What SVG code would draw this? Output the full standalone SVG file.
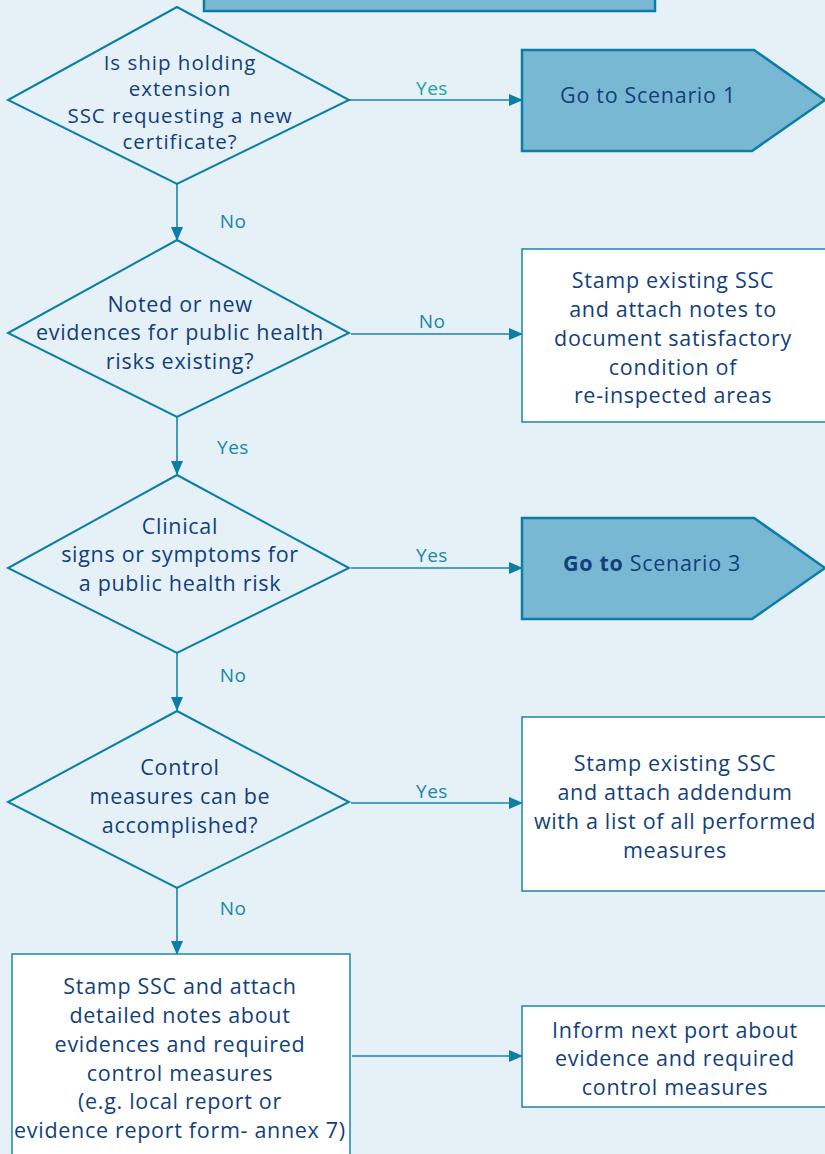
<svg xmlns="http://www.w3.org/2000/svg" width="825" height="1154" viewBox="0 0 825 1154">
<defs>
<marker id="ah" markerWidth="14" markerHeight="12" refX="13" refY="6" orient="auto" markerUnits="userSpaceOnUse"><path d="M0,0 L14,6 L0,12 Z" fill="#0b7ea6"/></marker>
<style>
.bg{fill:#e5f0f7}
.dia{fill:#e5f0f7;stroke:#0b7ea6;stroke-width:2}
.pent{fill:#79b8d2;stroke:#0b7ea6;stroke-width:2.5}
.box{fill:#ffffff;stroke:#1a86ab;stroke-width:1.5}
.con{fill:none;stroke:#1a86ab;stroke-width:1.6}
.t{font-family:"Open Sans","Liberation Sans",sans-serif;font-size:21.5px;letter-spacing:0.7px;fill:#123f7c;text-anchor:middle;dominant-baseline:central}
.ts{font-size:20.5px;letter-spacing:1px}
.lb{font-family:"Open Sans","Liberation Sans",sans-serif;font-size:19px;letter-spacing:0.5px;fill:#1a86ab;text-anchor:middle;dominant-baseline:central}
.lbg{fill:#1ba39b}
</style>
</defs>
<rect class="bg" x="0" y="0" width="825" height="1154"/>
<g id="top-box"><rect class="pent" x="204" y="-20" width="451" height="31"/></g>
<g id="connectors">
<line class="con" x1="349" y1="100" x2="522" y2="100" marker-end="url(#ah)"/>
<line class="con" x1="177" y1="184" x2="177" y2="240" marker-end="url(#ah)"/>
<line class="con" x1="351" y1="334" x2="522" y2="334" marker-end="url(#ah)"/>
<line class="con" x1="177" y1="417" x2="177" y2="474" marker-end="url(#ah)"/>
<line class="con" x1="351" y1="568" x2="522" y2="568" marker-end="url(#ah)"/>
<line class="con" x1="177" y1="653" x2="177" y2="710" marker-end="url(#ah)"/>
<line class="con" x1="351" y1="803" x2="522" y2="803" marker-end="url(#ah)"/>
<line class="con" x1="177" y1="888" x2="177" y2="954" marker-end="url(#ah)"/>
<line class="con" x1="352" y1="1056" x2="522" y2="1056" marker-end="url(#ah)"/>
<text class="lb lbg" x="432" y="88">Yes</text>
<text class="lb" x="233" y="221">No</text>
<text class="lb" x="432" y="321">No</text>
<text class="lb" x="233" y="447">Yes</text>
<text class="lb" x="432" y="555">Yes</text>
<text class="lb" x="233" y="675">No</text>
<text class="lb" x="432" y="791">Yes</text>
<text class="lb" x="233" y="908">No</text>
</g>
<g id="d1">
<polygon class="dia" points="177,7 349,100 177,184 8,100"/>
<text class="t ts" x="180" y="61.5">Is ship holding</text>
<text class="t ts" x="180" y="88">extension</text>
<text class="t ts" x="180" y="114.5">SSC requesting a new</text>
<text class="t ts" x="180" y="141">certificate?</text>
</g>
<g id="s1">
<polygon class="pent" points="522,50 754,50 825,100 752,151 522,151"/>
<text class="t" x="648" y="94">Go to Scenario 1</text>
</g>
<g id="d2">
<polygon class="dia" points="177,240 349,333 177,417 8,333"/>
<text class="t" x="180" y="303">Noted or new</text>
<text class="t" x="180" y="331">evidences for public health</text>
<text class="t" x="180" y="360">risks existing?</text>
</g>
<g id="b2">
<rect class="box" x="522" y="249" width="310" height="173"/>
<text class="t" x="673" y="279">Stamp existing SSC</text>
<text class="t" x="673" y="308">and attach notes to</text>
<text class="t" x="673" y="337">document satisfactory</text>
<text class="t" x="673" y="366">condition of</text>
<text class="t" x="673" y="394">re-inspected areas</text>
</g>
<g id="d3">
<polygon class="dia" points="177,475 349,568 177,653 8,568"/>
<text class="t" x="180" y="525">Clinical</text>
<text class="t" x="180" y="553">signs or symptoms for</text>
<text class="t" x="180" y="582">a public health risk</text>
</g>
<g id="s3">
<polygon class="pent" points="522,518 754,518 825,568 752,619 522,619"/>
<text class="t" x="652" y="562"><tspan font-weight="bold">Go to</tspan> Scenario 3</text>
</g>
<g id="d4">
<polygon class="dia" points="177,711 349,802 177,888 8,802"/>
<text class="t" x="180" y="766">Control</text>
<text class="t" x="180" y="795">measures can be</text>
<text class="t" x="180" y="824">accomplished?</text>
</g>
<g id="b4">
<rect class="box" x="522" y="717" width="310" height="174"/>
<text class="t" x="675" y="762">Stamp existing SSC</text>
<text class="t" x="675" y="791">and attach addendum</text>
<text class="t" x="675" y="820">with a list of all performed</text>
<text class="t" x="675" y="849">measures</text>
</g>
<g id="b5">
<rect class="box" x="12" y="954" width="338" height="220"/>
<text class="t" x="180" y="985">Stamp SSC and attach</text>
<text class="t" x="180" y="1014">detailed notes about</text>
<text class="t" x="180" y="1043">evidences and required</text>
<text class="t" x="180" y="1072">control measures</text>
<text class="t" x="180" y="1100">(e.g. local report or</text>
<text class="t" x="180" y="1129">evidence report form- annex 7)</text>
</g>
<g id="b6">
<rect class="box" x="522" y="1006" width="310" height="101"/>
<text class="t" x="675" y="1029">Inform next port about</text>
<text class="t" x="675" y="1057">evidence and required</text>
<text class="t" x="675" y="1086">control measures</text>
</g>
</svg>
